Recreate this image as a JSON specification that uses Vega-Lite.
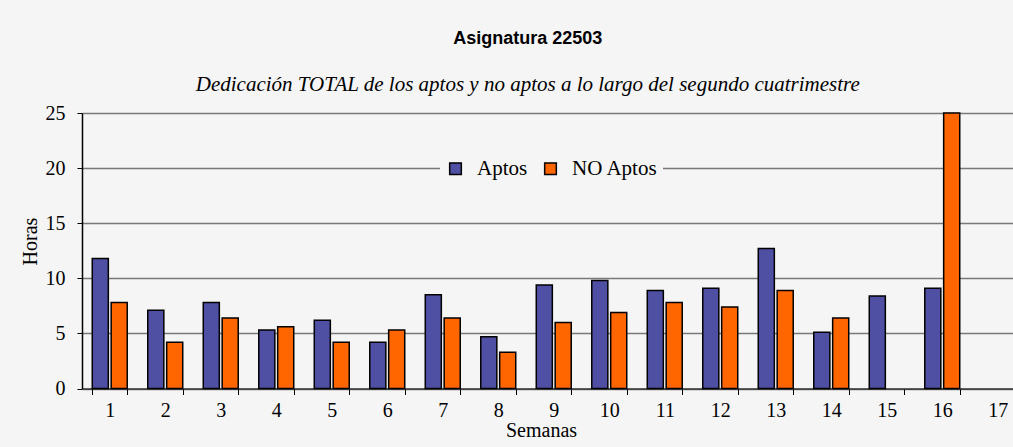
{
  "$schema": "https://vega.github.io/schema/vega-lite/v6.json",
  "autosize": {"type": "none"},
  "padding": {"left": 82, "top": 113, "right": 0, "bottom": 58},
  "width": 943.5,
  "height": 275.5,
  "background": "#f5f5f5",
  "title": {
    "text": "Asignatura 22503",
    "subtitle": "Dedicación TOTAL de los aptos y no aptos a lo largo del segundo cuatrimestre",
    "anchor": "middle",
    "frame": "group",
    "dx": -26,
    "font": "Liberation Sans",
    "fontSize": 18,
    "fontWeight": "bold",
    "color": "#000000",
    "subtitleFont": "Liberation Serif",
    "subtitleFontSize": 21,
    "subtitleFontStyle": "italic",
    "subtitleColor": "#000000",
    "subtitlePadding": 26,
    "offset": 8
  },
  "data": {
    "values": [
      {"semana": 1, "serie": "Aptos", "horas": 11.8},
      {"semana": 1, "serie": "NO Aptos", "horas": 7.8},
      {"semana": 2, "serie": "Aptos", "horas": 7.1},
      {"semana": 2, "serie": "NO Aptos", "horas": 4.2},
      {"semana": 3, "serie": "Aptos", "horas": 7.8},
      {"semana": 3, "serie": "NO Aptos", "horas": 6.4},
      {"semana": 4, "serie": "Aptos", "horas": 5.3},
      {"semana": 4, "serie": "NO Aptos", "horas": 5.6},
      {"semana": 5, "serie": "Aptos", "horas": 6.2},
      {"semana": 5, "serie": "NO Aptos", "horas": 4.2},
      {"semana": 6, "serie": "Aptos", "horas": 4.2},
      {"semana": 6, "serie": "NO Aptos", "horas": 5.3},
      {"semana": 7, "serie": "Aptos", "horas": 8.5},
      {"semana": 7, "serie": "NO Aptos", "horas": 6.4},
      {"semana": 8, "serie": "Aptos", "horas": 4.7},
      {"semana": 8, "serie": "NO Aptos", "horas": 3.3},
      {"semana": 9, "serie": "Aptos", "horas": 9.4},
      {"semana": 9, "serie": "NO Aptos", "horas": 6.0},
      {"semana": 10, "serie": "Aptos", "horas": 9.8},
      {"semana": 10, "serie": "NO Aptos", "horas": 6.9},
      {"semana": 11, "serie": "Aptos", "horas": 8.9},
      {"semana": 11, "serie": "NO Aptos", "horas": 7.8},
      {"semana": 12, "serie": "Aptos", "horas": 9.1},
      {"semana": 12, "serie": "NO Aptos", "horas": 7.4},
      {"semana": 13, "serie": "Aptos", "horas": 12.7},
      {"semana": 13, "serie": "NO Aptos", "horas": 8.9},
      {"semana": 14, "serie": "Aptos", "horas": 5.1},
      {"semana": 14, "serie": "NO Aptos", "horas": 6.4},
      {"semana": 15, "serie": "Aptos", "horas": 8.4},
      {"semana": 16, "serie": "Aptos", "horas": 9.1},
      {"semana": 16, "serie": "NO Aptos", "horas": 25}
    ]
  },
  "mark": {"type": "bar", "stroke": "#000000", "strokeWidth": 1.5},
  "encoding": {
    "x": {
      "field": "semana",
      "type": "ordinal",
      "scale": {
        "domain": [1, 2, 3, 4, 5, 6, 7, 8, 9, 10, 11, 12, 13, 14, 15, 16, 17],
        "paddingInner": 0.37,
        "paddingOuter": 0.185
      },
      "axis": {
        "title": "Semanas",
        "titleFont": "Liberation Serif",
        "titleFontSize": 20,
        "titleFontWeight": "normal",
        "titleColor": "#000000",
        "titleX": 459,
        "titleY": 42,
        "titleBaseline": "middle",
        "labelFont": "Liberation Serif",
        "labelFontSize": 20,
        "labelColor": "#000000",
        "labelAngle": 0,
        "labelPadding": 6,
        "tickBand": "extent",
        "tickSize": 6,
        "tickColor": "#000000",
        "tickWidth": 1,
        "domainColor": "#333333",
        "domainWidth": 1.5,
        "grid": false
      }
    },
    "xOffset": {
      "field": "serie",
      "type": "nominal",
      "scale": {"paddingInner": 0.15, "paddingOuter": 0}
    },
    "y": {
      "field": "horas",
      "type": "quantitative",
      "scale": {"domain": [0, 25], "nice": false},
      "axis": {
        "title": "Horas",
        "titleFont": "Liberation Serif",
        "titleFontSize": 20,
        "titleFontWeight": "normal",
        "titleColor": "#000000",
        "titlePadding": 5,
        "titleY": 128,
        "values": [0, 5, 10, 15, 20, 25],
        "labelFont": "Liberation Serif",
        "labelFontSize": 20,
        "labelColor": "#000000",
        "labelPadding": 12,
        "tickSize": 5,
        "tickColor": "#000000",
        "domainColor": "#000000",
        "domainWidth": 1.5,
        "grid": true,
        "gridColor": "#7a7a7a",
        "gridWidth": 1.5
      }
    },
    "color": {
      "field": "serie",
      "type": "nominal",
      "scale": {"domain": ["Aptos", "NO Aptos"], "range": ["#4f4fa3", "#ff6600"]},
      "legend": {
        "title": null,
        "orient": "none",
        "direction": "horizontal",
        "legendX": 358,
        "legendY": 40,
        "padding": 5,
        "fillColor": "#f5f5f5",
        "symbolType": "square",
        "symbolSize": 136,
        "symbolStrokeColor": "#000000",
        "symbolStrokeWidth": 1.5,
        "symbolOpacity": 1,
        "labelFont": "Liberation Serif",
        "labelFontSize": 21,
        "labelColor": "#000000",
        "labelOffset": 11,
        "columnPadding": 12
      }
    }
  },
  "config": {
    "view": {"stroke": null}
  }
}
